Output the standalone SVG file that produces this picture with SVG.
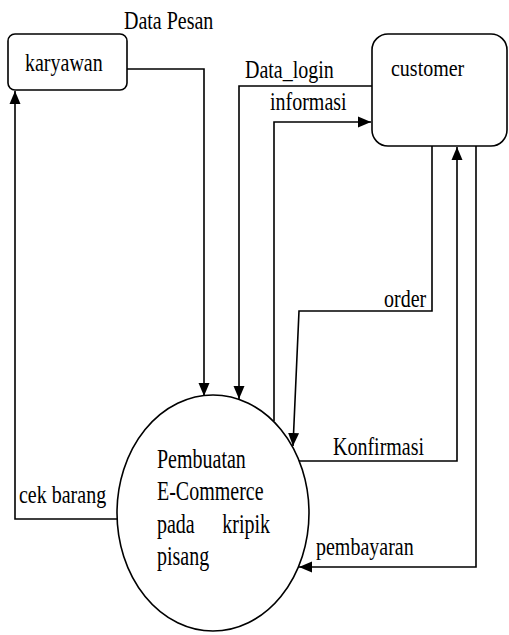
<svg xmlns="http://www.w3.org/2000/svg" width="509" height="635" viewBox="0 0 509 635">
<style>
.box{fill:#fff;stroke:#000;stroke-width:1.6}
.ln{fill:none;stroke:#000;stroke-width:1.6}
.t{font-family:"Liberation Serif","Times New Roman",serif;font-size:20px;fill:#000}
</style>
<defs>
<marker id="ah" markerUnits="userSpaceOnUse" markerWidth="14" markerHeight="14" viewBox="0 0 14 14" refX="13" refY="7" orient="auto">
<path d="M0,1.5 L13,7 L0,12.5 Z" fill="#000"/>
</marker>
</defs>
<rect width="509" height="635" fill="#fff"/>
<g id="connectors">
<polyline class="ln" points="127,69 204,69 204,396" marker-end="url(#ah)"/>
<polyline class="ln" points="117,519 15,519 15,91" marker-end="url(#ah)"/>
<polyline class="ln" points="372,86 239,86 239,399" marker-end="url(#ah)"/>
<polyline class="ln" points="274,421 274,122 371,122" marker-end="url(#ah)"/>
<polyline class="ln" points="432,146 432,311 299,311 293,446" marker-end="url(#ah)"/>
<polyline class="ln" points="298,461 457,461 457,147" marker-end="url(#ah)"/>
<polyline class="ln" points="476,146 476,567 299,567" marker-end="url(#ah)"/>
<text class="t" transform="translate(124,29) scale(1,1.25)">Data Pesan</text>
<text class="t" transform="translate(245,78) scale(1,1.25)">Data_login</text>
<text class="t" transform="translate(270,110) scale(1,1.25)">informasi</text>
<text class="t" transform="translate(384,307) scale(1,1.3)">order</text>
<text class="t" transform="translate(333,455) scale(1,1.3)">Konfirmasi</text>
<text class="t" transform="translate(316,555) scale(1,1.3)">pembayaran</text>
<text class="t" transform="translate(19,503) scale(1,1.3)">cek barang</text>
</g>
<g id="karyawan">
<rect class="box" x="8" y="34" width="119" height="56" rx="7"/>
<text class="t" transform="translate(25,71) scale(1,1.28)">karyawan</text>
</g>
<g id="customer">
<rect class="box" x="372" y="34" width="135" height="112" rx="16"/>
<text class="t" transform="translate(391,76) scale(1,1.2)">customer</text>
</g>
<g id="proses">
<ellipse class="box" cx="213" cy="513" rx="96" ry="118"/>
<text class="t" transform="translate(157,468) scale(1,1.32)">Pembuatan</text>
<text class="t" transform="translate(157,500) scale(1,1.32)">E-Commerce</text>
<text class="t" transform="translate(157,533) scale(1,1.32)">pada</text>
<text class="t" text-anchor="end" transform="translate(270,533) scale(1,1.32)">kripik</text>
<text class="t" transform="translate(157,565) scale(1,1.32)">pisang</text>
</g>
</svg>
